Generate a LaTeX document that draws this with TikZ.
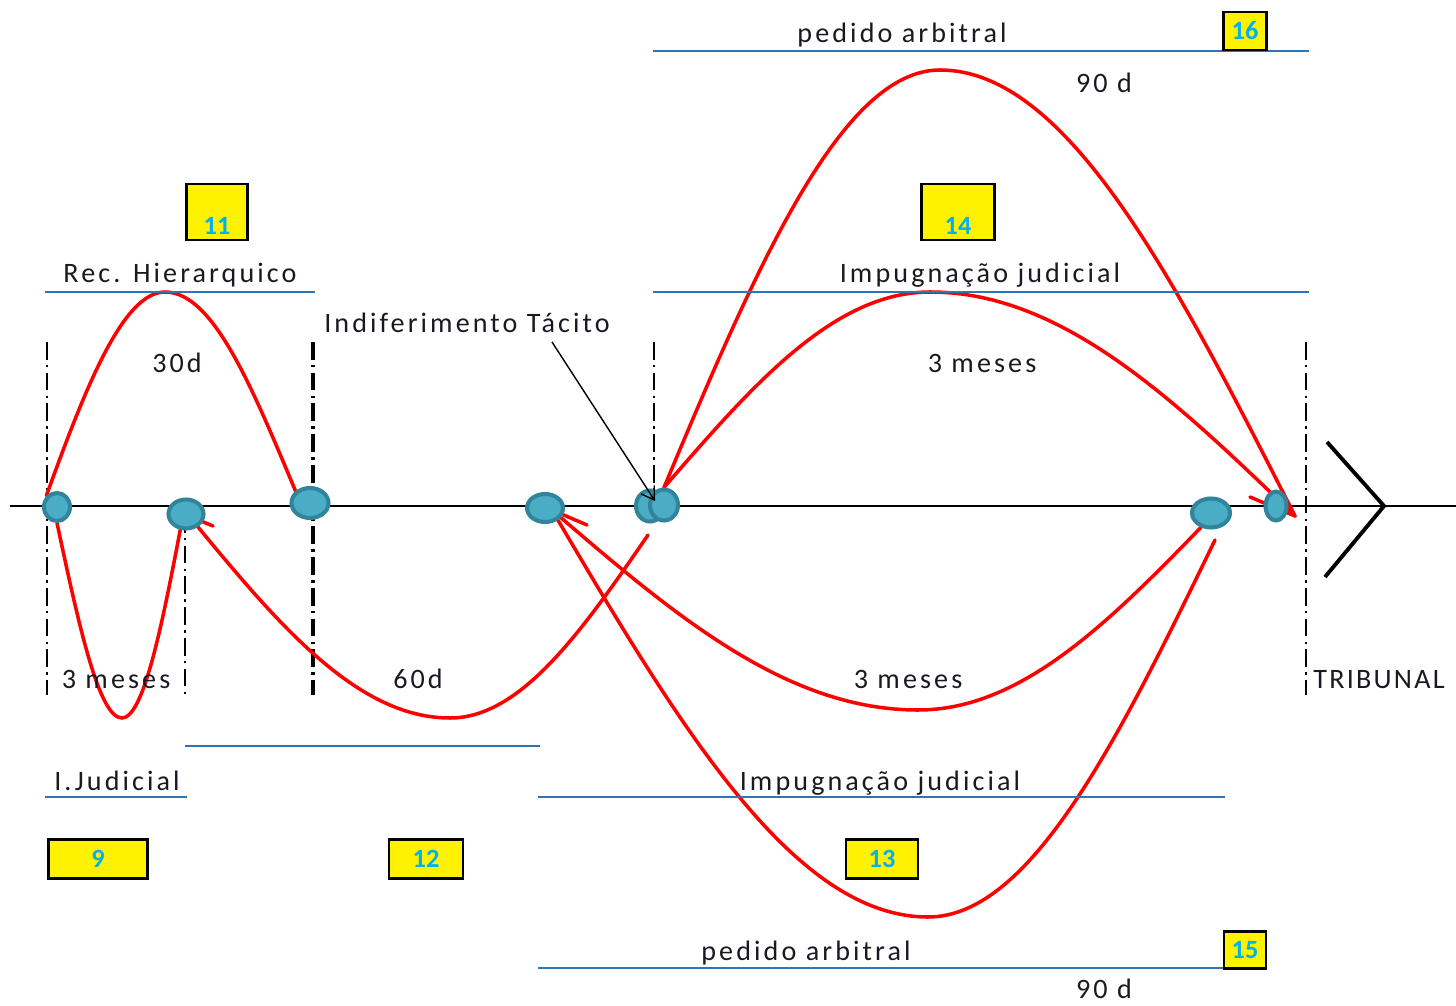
\documentclass[tikz,border=0pt]{standalone}
\usepackage{fontspec}
\setmainfont{Carlito}
\newfontfamily\spacedfont{Carlito}[LetterSpace=11]
\newfontfamily\capsfont{Carlito}[LetterSpace=8]
\usepackage{xcolor}
\usepackage{tikz}
\usetikzlibrary{shapes.geometric,arrows.meta,backgrounds,calc}

\definecolor{tealfill}{RGB}{75,172,198}
\definecolor{tealedge}{RGB}{49,133,155}
\definecolor{rulecol}{RGB}{46,117,182}
\definecolor{numcol}{RGB}{0,176,240}
\definecolor{inkcol}{RGB}{25,25,35}

\begin{document}
\begin{tikzpicture}[
  x=0.02cm, y=0.02cm,
  txt/.style={anchor=base, inner sep=0pt, text=inkcol, font=\fontsize{16}{18}\selectfont\spacedfont},
  arc/.style={red, line width=2pt, line cap=round},
  milestone/.style={ellipse, draw=tealedge, fill=tealfill, line width=2.3pt, inner sep=0pt},
  numbox/.style={rectangle, draw=black, fill=yellow, line width=1.6pt, inner sep=0pt, text=numcol, font=\fontsize{15}{17}\selectfont\bfseries},
  uline/.style={rulecol, line width=0.9pt},
  vlim/.style={black, line width=0.9pt, dash pattern=on 10pt off 3pt on 1.5pt off 3pt},
]
\useasboundingbox (0,0) rectangle (1456,-1006);

% milestones on the time line
\foreach \n/\x/\y/\w/\h in {0/57/507/26/28, 1/186/514/35/29, 2/310/503/37/30, 3/545/508/36/28,
                            4/650/506/28/31, 5/664/505/28/31, 6/1211/513/38/29, 7/1276/506/21/29} {
  \node[milestone, minimum width=\w*0.02cm, minimum height=\h*0.02cm] (e\n) at (\x,-\y) {};
}

% arrow tips and loose ends of the deadlines
\coordinate (tipA) at (189,-516);
\coordinate (tipB) at (552,-510);
\coordinate (tipC) at (1295,-516);
\coordinate (end60) at (648,-535);
\coordinate (start90) at (1215,-540);

\begin{pgfonlayer}{background}
% time line and limits
\draw[black, line width=1.7pt] (10,-506) -- (1456,-506);
\draw[vlim] (47,-342) -- (47,-695);
\draw[vlim] (185,-515) -- (185,-695);
\draw[vlim, line width=2pt] (313,-342) -- (313,-695);
\draw[vlim] (654,-342) -- (654,-500);
\draw[vlim] (1306,-342) -- (1306,-695);

% Rec. Hierarquico - 30d
\draw[arc] (e0.north west) .. controls +(39,108) and +(-42,0) .. (165,-292)
                           .. controls +(48,0) and +(-44,105) .. (e2.north west);
% I.Judicial - 3 meses
\draw[arc] (e0.south) .. controls +(22,-103) and +(-23,0) .. (122,-718)
                      .. controls +(21,0) and +(-19,-100) .. (e1.250);
% indeferimento - 60d
\draw[arc] (tipA) -- ++(24,-10);
\draw[arc] (tipA) .. controls +(87,-106) and +(-94,0) .. (450,-718)
                  .. controls +(71,0) and +(-66,-96) .. (end60);
% impugnacao judicial (top) - 3 meses
\draw[arc] (e5.north) .. controls +(89,103) and +(-96,0) .. (930,-292)
                      .. controls +(131,0) and +(-122,118) .. (tipC);
% pedido arbitral (top) - 90 d
\draw[arc] (e5.north) .. controls +(92,220) and +(-99,0) .. (940,-70)
                      .. controls +(128,0) and +(-119,234) .. (tipC);
\draw[arc] (tipC) -- (1250,-497);
% impugnacao judicial (bottom) - 3 meses
\draw[arc] (e6.235) .. controls +(-94,-97) and +(102,0) .. (918,-710)
                    .. controls +(-132,0) and +(122,-105) .. (tipB);
% pedido arbitral (bottom) - 90 d
\draw[arc] (start90) .. controls +(-96,-198) and +(103,0) .. (928,-917)
                     .. controls +(-135,0) and +(126,-214) .. (tipB);
\draw[arc] (tipB) -- (587,-525);
\end{pgfonlayer}

% tribunal
\draw[black, line width=2.2pt] (1327,-442) -- (1384,-506) -- (1325,-577);

% underlines
\draw[uline] (653,-51) -- (1309,-51);
\draw[uline] (45,-292) -- (315,-292);
\draw[uline] (653,-292) -- (1309,-292);
\draw[uline] (185,-746) -- (540,-746);
\draw[uline, line width=1.6pt] (45,-797) -- (187,-797);
\draw[uline, line width=1.6pt] (538,-797) -- (1225,-797);
\draw[uline] (538,-968) -- (1225,-968);

% numbered boxes
\node[numbox, minimum width=1.22cm, minimum height=1.12cm, text height=26pt, text depth=0pt] (b11) at (217,-212) {11};
\node[numbox, minimum width=1.46cm, minimum height=1.12cm, text height=26pt, text depth=0pt] (b14) at (958,-212) {14};
\node[numbox, minimum width=0.86cm, minimum height=0.76cm] (b16) at (1245,-31) {16};
\node[numbox, minimum width=1.98cm, minimum height=0.78cm] (b9) at (98,-859) {9};
\node[numbox, minimum width=1.48cm, minimum height=0.78cm] (b12) at (426,-859) {12};
\node[numbox, minimum width=1.44cm, minimum height=0.78cm] (b13) at (882,-859) {13};
\node[numbox, minimum width=0.84cm, minimum height=0.74cm] (b15) at (1245,-950) {15};

% labels
\node[txt] (arbTop) at (902,-43) {pedido arbitral};
\node[txt] (d90Top) at (1104,-93) {90 d};
\node[txt] (recH) at (180,-283) {Rec. Hierarquico};
\node[txt] (impTop) at (980,-283) {Impugnação judicial};
\node[txt] (ind) at (467,-333) {Indiferimento Tácito};
\node[txt] (d30) at (177,-373) {30d};
\node[txt] (m3Top) at (982,-373) {3 meses};
\node[txt] (m3Left) at (116,-688) {3 meses};
\node[txt] (d60) at (418,-688) {60d};
\node[txt] (m3Bot) at (908,-688) {3 meses};
\node[txt, font=\fontsize{16}{18}\selectfont\capsfont] (trib) at (1379,-688) {TRIBUNAL};
\node[txt] (ijud) at (117,-790) {I.Judicial};
\node[txt] (impBot) at (880,-790) {Impugnação judicial};
\node[txt] (arbBot) at (806,-960) {pedido arbitral};
\node[txt] (d90Bot) at (1104,-998) {90 d};

% indeferimento tacito
\coordinate (indTail) at (552,-342);
\draw[black, line width=0.8pt, -{Straight Barb[length=7pt,width=9pt]}] (indTail) -- ([shift={(5,5)}]e4.center);
\end{tikzpicture}
\end{document}
